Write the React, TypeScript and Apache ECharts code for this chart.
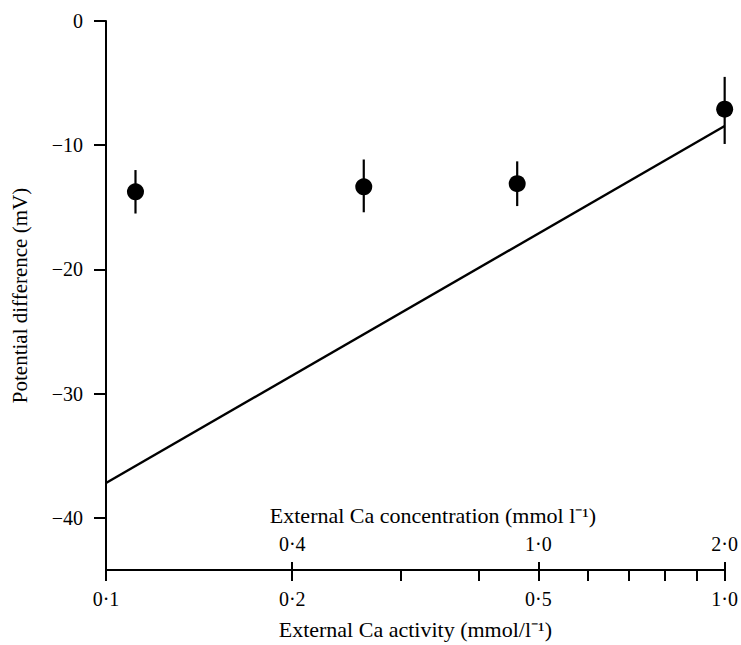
import React, { useEffect, useRef } from "react";
import * as echarts from "echarts";

// Data
const activity = [0.1116, 0.261, 0.462, 1.0]; // external Ca activity (mmol l-1)
const meanPD = [-13.75, -13.35, -13.1, -7.1]; // potential difference (mV)
const errTop = [-12.0, -11.15, -11.3, -4.5];
const errBottom = [-15.5, -15.4, -14.9, -9.9];

// Theoretical line (endpoints)
const lineActivity = [0.1, 1.0];
const linePD = [-37.2, -8.45];

// Axis ticks
const activityMajorTicks = [0.1, 0.2, 0.5, 1.0];
const activityMinorTicks = [0.3, 0.4, 0.6, 0.7, 0.8, 0.9];
const concTickActivity = [0.2, 0.5, 1.0];
const concTickLabels = ["0·4", "1·0", "2·0"];
const yTicks = [0, -10, -20, -30, -40];

const FONT = "Liberation Serif";
const INK = "#000";

const lg = (v: number) => Math.log10(v);
const fmtAct = (v: number) => {
  const a = Math.pow(10, v);
  return a.toFixed(1).replace(".", "·");
};

export default function App() {
  const ref = useRef<HTMLDivElement>(null);
  useEffect(() => {
    if (!ref.current) return;
    const chart = echarts.init(ref.current, null, { renderer: "svg" });
    const majorLog = activityMajorTicks.map(lg);
    const allLog = activityMajorTicks.concat(activityMinorTicks).map(lg);
    const concLog = concTickActivity.map(lg);
    const option: any = {
      animation: false,
      backgroundColor: "#fff",
      textStyle: { fontFamily: FONT, color: INK },
      grid: { left: 106, right: 16, top: 21, bottom: 69 },
      xAxis: [
        {
          type: "value",
          min: -1,
          max: 0,
          position: "bottom",
          axisLine: { show: true, onZero: false, lineStyle: { color: INK, width: 2 } },
          axisTick: { show: true, customValues: allLog, length: 11, lineStyle: { color: INK, width: 2 } },
          axisLabel: {
            customValues: majorLog,
            formatter: (v: number) => fmtAct(v),
            fontFamily: FONT,
            fontSize: 20,
            color: INK,
            margin: 19,
          },
          splitLine: { show: false },
          name: "External Ca activity (mmol/l⁻¹)",
          nameLocation: "middle",
          nameGap: 48,
          nameTextStyle: { fontFamily: FONT, fontSize: 22, color: INK },
        },
        {
          type: "value",
          min: -1,
          max: 0,
          position: "bottom",
          axisLine: { show: false, onZero: false },
          axisTick: { show: true, inside: true, customValues: concLog, length: 8, lineStyle: { color: INK, width: 2 } },
          axisLabel: {
            inside: true,
            customValues: concLog,
            formatter: (v: number) => {
              const i = concLog.findIndex((c) => Math.abs(c - v) < 1e-6);
              return i >= 0 ? concTickLabels[i] : "";
            },
            fontFamily: FONT,
            fontSize: 20,
            color: INK,
            margin: 16,
          },
          splitLine: { show: false },
        },
      ],
      yAxis: {
        type: "value",
        min: -44.2,
        max: 0,
        axisLine: { show: true, onZero: false, lineStyle: { color: INK, width: 2 } },
        axisTick: { show: true, customValues: yTicks, length: 12, lineStyle: { color: INK, width: 2 } },
        axisLabel: {
          customValues: yTicks,
          formatter: (v: number) => String(v).replace("-", "−"),
          fontFamily: FONT,
          fontSize: 20,
          color: INK,
          margin: 23,
        },
        splitLine: { show: false },
        name: "Potential difference (mV)",
        nameLocation: "middle",
        nameGap: 76,
        nameRotate: 90,
        nameTextStyle: { fontFamily: FONT, fontSize: 21, color: INK },
      },
      graphic: [
        {
          type: "text",
          x: 433,
          y: 515,
          style: {
            text: "External Ca concentration (mmol l⁻¹)",
            fontFamily: FONT,
            fontSize: 22,
            fill: INK,
            align: "center",
            verticalAlign: "middle",
          },
        },
      ],
      series: [
        {
          type: "line",
          data: lineActivity.map((a, i) => [lg(a), linePD[i]]),
          showSymbol: false,
          symbol: "none",
          lineStyle: { color: INK, width: 2.4 },
          clip: false,
        },
        {
          type: "custom",
          data: activity.map((a, i) => [lg(a), errTop[i], errBottom[i]]),
          encode: { x: 0, y: [1, 2] },
          clip: false,
          renderItem: (params: any, api: any) => {
            const x = api.value(0);
            const p1 = api.coord([x, api.value(1)]);
            const p2 = api.coord([x, api.value(2)]);
            return {
              type: "line",
              shape: { x1: p1[0], y1: p1[1], x2: p2[0], y2: p2[1] },
              style: { stroke: INK, lineWidth: 2.2 },
            };
          },
        },
        {
          type: "scatter",
          data: activity.map((a, i) => [lg(a), meanPD[i]]),
          symbol: "circle",
          symbolSize: 17,
          itemStyle: { color: INK, opacity: 1 },
          clip: false,
        },
      ],
    };
    chart.setOption(option);
    return () => chart.dispose();
  }, []);
  return (
    <div
      ref={ref}
      style={{ position: "fixed", left: 0, top: 0, width: 741, height: 645, background: "#fff" }}
    />
  );
}
